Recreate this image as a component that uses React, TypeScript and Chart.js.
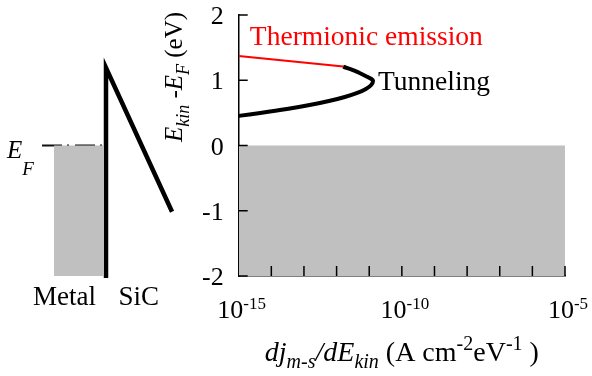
import React, { useEffect, useRef } from 'react';
import { Chart, registerables } from 'chart.js';

Chart.register(...registerables);

// ---------- data: right panel (energy distribution of current density) ----------
const xMinValue = 1e-15;
const xMaxValue = 1e-5;
const yMinValue = -2;
const yMaxValue = 2;
const xTickLabelValues = [1e-15, 1e-10, 1e-5];
const xTickMarkValues = [1e-14, 1e-13, 1e-12, 1e-11, 1e-10, 1e-9, 1e-8, 1e-7, 1e-6, 1e-5];
const yTickValues = [2, 1, 0, -1, -2];

const thermionicX = [1e-15, 1.6e-12];
const thermionicY = [1.37, 1.21];

const tunnelingX = [1.59e-12, 4.1e-12, 8.3e-12, 1.17e-11, 1.31e-11, 1.15e-11, 7.9e-12, 4.3e-12, 1.78e-12, 5.8e-13, 1.49e-13, 3.0e-14, 4.6e-15, 1e-15];
const tunnelingY = [1.208, 1.131, 1.057, 1.019, 0.988, 0.927, 0.866, 0.805, 0.743, 0.682, 0.621, 0.559, 0.498, 0.454];

const occupiedX = [1e-15, 1e-5];
const occupiedY = [0, 0];
const occupiedFloor = -2;

const curveLabels = ['Thermionic emission', 'Tunneling'];
const curveLabelX = [2.2e-15, 1.86e-11];
const curveLabelY = [1.54, 0.853];
const curveLabelColors = ['#ff0000', '#000000'];

// ---------- data: left panel (band diagram) ----------
const fermiLevel = 0;
const metalX = [-1, -0.05];
const fermiLineX = [-1.23, 0];
const barrierX = [0, 0, 1.27];
const barrierY = [-2.03, 1.19, -1.015];
const materialLabels = ['Metal', 'SiC'];
const materialLabelX = [-0.8, 0.63];
const materialLabelY = -2.44;

const FAMILY = '"Liberation Serif", "Times New Roman", serif';

type Seg = { t: string; it?: boolean; sz: number; dy?: number };

function drawRich(ctx: CanvasRenderingContext2D, segs: Seg[], x: number, y: number, align: 'left' | 'center') {
  let total = 0;
  for (const s of segs) {
    ctx.font = `${s.it ? 'italic ' : ''}${s.sz}px ${FAMILY}`;
    total += ctx.measureText(s.t).width;
  }
  let cx = align === 'center' ? x - total / 2 : x;
  ctx.textAlign = 'left';
  ctx.textBaseline = 'alphabetic';
  for (const s of segs) {
    ctx.font = `${s.it ? 'italic ' : ''}${s.sz}px ${FAMILY}`;
    ctx.fillText(s.t, cx, y + (s.dy || 0));
    cx += ctx.measureText(s.t).width;
  }
}

const rightDecor = {
  id: 'rightDecor',
  afterDraw(chart: any) {
    const ctx: CanvasRenderingContext2D = chart.ctx;
    const xs = chart.scales.x;
    const ys = chart.scales.y;
    const area = chart.chartArea;
    ctx.save();
    ctx.strokeStyle = '#000';
    ctx.lineWidth = 1.5;
    // inward tick marks
    for (const v of yTickValues) {
      const py = ys.getPixelForValue(v);
      ctx.beginPath();
      ctx.moveTo(area.left, py);
      ctx.lineTo(area.left + 9, py);
      ctx.stroke();
    }
    for (const v of xTickMarkValues) {
      const px = xs.getPixelForValue(v);
      ctx.beginPath();
      ctx.moveTo(px, area.bottom);
      ctx.lineTo(px, area.bottom - 10);
      ctx.stroke();
    }
    ctx.fillStyle = '#000';
    // y tick labels
    ctx.font = `26px ${FAMILY}`;
    ctx.textAlign = 'right';
    ctx.textBaseline = 'alphabetic';
    for (const v of yTickValues) {
      const py = ys.getPixelForValue(v);
      ctx.fillText(String(v), area.left - 15, py + 9);
    }
    // x tick labels 10^n
    for (const v of xTickLabelValues) {
      const px = xs.getPixelForValue(v);
      const exp = String(Math.round(Math.log10(v)));
      ctx.font = `26px ${FAMILY}`;
      const w1 = ctx.measureText('10').width;
      ctx.font = `17px ${FAMILY}`;
      const w2 = ctx.measureText(exp).width;
      const start = px + 3 - (w1 + w2) / 2;
      ctx.textAlign = 'left';
      ctx.font = `26px ${FAMILY}`;
      ctx.fillText('10', start, 318);
      ctx.font = `17px ${FAMILY}`;
      ctx.fillText(exp, start + w1, 309);
    }
    // curve labels
    ctx.font = `27.5px ${FAMILY}`;
    ctx.textAlign = 'left';
    curveLabels.forEach((t, i) => {
      ctx.fillStyle = curveLabelColors[i];
      ctx.fillText(t, xs.getPixelForValue(curveLabelX[i]), ys.getPixelForValue(curveLabelY[i]));
    });
    ctx.fillStyle = '#000';
    // x axis title
    drawRich(
      ctx,
      [
        { t: 'dj', it: true, sz: 28 },
        { t: 'm-s', it: true, sz: 20, dy: 7 },
        { t: '/', it: true, sz: 28 },
        { t: 'dE', it: true, sz: 28 },
        { t: 'kin', it: true, sz: 20, dy: 7 },
        { t: ' (A cm', sz: 28 },
        { t: '-2', sz: 20, dy: -11 },
        { t: 'eV', sz: 28 },
        { t: '-1', sz: 20, dy: -11 },
        { t: ' )', sz: 28 },
      ],
      (area.left + area.right) / 2,
      361,
      'center'
    );
    // y axis title (rotated)
    ctx.save();
    ctx.translate(area.left - 57, 77);
    ctx.rotate(-Math.PI / 2);
    drawRich(
      ctx,
      [
        { t: 'E', it: true, sz: 25 },
        { t: 'kin', it: true, sz: 18, dy: 7 },
        { t: ' -', sz: 25 },
        { t: 'E', it: true, sz: 25 },
        { t: 'F', it: true, sz: 18, dy: 7 },
        { t: ' (eV)', sz: 25 },
      ],
      0,
      0,
      'center'
    );
    ctx.restore();
    ctx.restore();
  },
};

const leftDecor = {
  id: 'leftDecor',
  afterDraw(chart: any) {
    const ctx: CanvasRenderingContext2D = chart.ctx;
    const xs = chart.scales.x;
    const ys = chart.scales.y;
    ctx.save();
    ctx.fillStyle = '#000';
    ctx.font = `27px ${FAMILY}`;
    ctx.textAlign = 'center';
    ctx.textBaseline = 'alphabetic';
    materialLabels.forEach((t, i) => {
      ctx.fillText(t, xs.getPixelForValue(materialLabelX[i]), ys.getPixelForValue(materialLabelY));
    });
    const efY = ys.getPixelForValue(fermiLevel);
    drawRich(
      ctx,
      [
        { t: 'E', it: true, sz: 25 },
        { t: 'F', it: true, sz: 19, dy: 17 },
      ],
      7,
      efY + 12,
      'left'
    );
    ctx.restore();
  },
};

const pts = (xs: number[], ys: number[]) => xs.map((x, i) => ({ x, y: ys[i] }));

export default function App() {
  const leftRef = useRef<HTMLCanvasElement>(null);
  const rightRef = useRef<HTMLCanvasElement>(null);

  useEffect(() => {
    const left = new Chart(leftRef.current!, {
      type: 'line',
      data: {
        datasets: [
          {
            data: pts(metalX, metalX.map(() => fermiLevel)),
            borderWidth: 0,
            pointRadius: 0,
            backgroundColor: '#c0c0c0',
            fill: { value: -2 },
          } as any,
          {
            data: pts(fermiLineX, fermiLineX.map(() => fermiLevel)),
            borderColor: '#111',
            borderWidth: 2,
            borderDash: [20, 5, 2, 6],
            pointRadius: 0,
            fill: false,
          },
          {
            data: pts(barrierX, barrierY),
            borderColor: '#000',
            borderWidth: 4.5,
            borderJoinStyle: 'miter',
            pointRadius: 0,
            fill: false,
            clip: false,
          } as any,
        ],
      },
      options: {
        animation: false,
        responsive: false,
        devicePixelRatio: 1,
        events: [],
        layout: { padding: { left: 2, right: 0.4, top: 15, bottom: 100 } },
        plugins: { legend: { display: false }, tooltip: { enabled: false } },
        scales: {
          x: { type: 'linear', min: -2, max: 1.8, display: false },
          y: { type: 'linear', min: yMinValue, max: yMaxValue, display: false },
        },
      },
      plugins: [leftDecor],
    });

    const right = new Chart(rightRef.current!, {
      type: 'line',
      data: {
        datasets: [
          {
            data: pts(occupiedX, occupiedY),
            borderWidth: 0,
            pointRadius: 0,
            backgroundColor: '#c0c0c0',
            fill: { value: occupiedFloor },
          } as any,
          {
            data: pts(thermionicX, thermionicY),
            borderColor: '#ff0000',
            borderWidth: 2,
            pointRadius: 0,
            fill: false,
          },
          {
            data: pts(tunnelingX, tunnelingY),
            borderColor: '#000',
            borderWidth: 4,
            tension: 0.3,
            pointRadius: 0,
            fill: false,
          },
        ],
      },
      options: {
        animation: false,
        responsive: false,
        devicePixelRatio: 1,
        events: [],
        layout: { padding: { left: 88.7, right: 27, top: 15, bottom: 100 } },
        plugins: { legend: { display: false }, tooltip: { enabled: false } },
        scales: {
          x: {
            type: 'logarithmic',
            min: xMinValue,
            max: xMaxValue,
            z: 1,
            ticks: { display: false },
            grid: { display: false, drawTicks: false },
            border: { display: true, color: '#000', width: 1.5 },
            afterFit: (s: any) => {
              s.height = 0;
            },
          },
          y: {
            type: 'linear',
            min: yMinValue,
            max: yMaxValue,
            z: 1,
            ticks: { display: false },
            grid: { display: false, drawTicks: false },
            border: { display: true, color: '#000', width: 1.5 },
            afterFit: (s: any) => {
              s.width = 0;
            },
          },
        },
      },
      plugins: [rightDecor],
    });

    return () => {
      left.destroy();
      right.destroy();
    };
  }, []);

  return (
    <div style={{ position: 'absolute', left: 0, top: 0, width: 592, height: 376, background: '#fff' }}>
      <canvas ref={leftRef} width={200} height={376} style={{ position: 'absolute', left: 0, top: 0, width: 200, height: 376 }} />
      <canvas ref={rightRef} width={442} height={376} style={{ position: 'absolute', left: 150, top: 0, width: 442, height: 376 }} />
    </div>
  );
}
